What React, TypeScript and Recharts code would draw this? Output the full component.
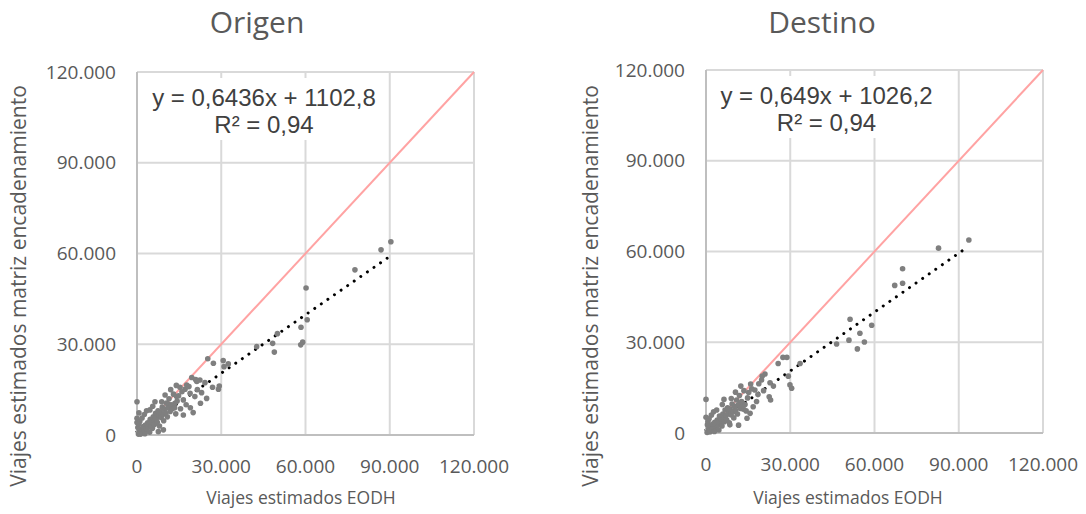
import React from "react";
import { ScatterChart, Scatter, XAxis, YAxis, CartesianGrid, ReferenceLine } from "recharts";

// ejes compartidos (valores en viajes)
const axisTicks = [0, 30000, 60000, 90000, 120000];
const identityLine = [0, 120000];

// Origen: [EODH, matriz encadenamiento]
const origenPoints: [number, number][] = [
  [90400, 63900], [86900, 61200], [77600, 54600], [60200, 48600], [60600, 38100],
  [58400, 35600], [59000, 30700], [58300, 29800], [50000, 33500], [48300, 30300],
  [48900, 27400], [42600, 29200], [25200, 25200], [30700, 24600], [32500, 23500],
  [31000, 22600], [27200, 23700], [22400, 18200], [20900, 18300], [24200, 17300],
  [21300, 17700], [26900, 15800], [29000, 15100], [29300, 16200], [24800, 12100],
  [22600, 10500], [20000, 7400], [17100, 15100], [17700, 16500], [15300, 15800],
  [18900, 13800], [20600, 12700], [16500, 11600], [14100, 12700], [13500, 10500],
  [16500, 6600], [12700, 9400], [11100, 10200], [6400, 11000], [4600, 8300],
  [0, 11000], [0, 5500], [0, 4100], [9400, 1700], [7600, 1100],
  [500, 300], [800, 1200], [1200, 600], [1500, 2000], [2000, 1500],
  [2200, 2800], [2500, 1000], [3000, 3300], [3200, 2100], [3500, 1500],
  [3800, 4000], [4000, 2600], [4300, 3500], [4700, 5200], [5000, 3000],
  [5200, 4400], [5500, 2200], [5800, 6000], [6000, 4800], [6200, 3500],
  [6600, 7200], [7000, 5600], [7200, 4200], [7500, 8000], [7800, 6500],
  [8000, 3000], [8300, 7600], [8600, 5800], [9000, 9200], [9200, 6800],
  [9500, 4700], [9800, 8500], [10200, 7200], [10500, 10600], [10800, 6000],
  [11000, 9000], [11400, 12000], [11800, 7800], [12200, 10000], [12500, 8600],
  [13000, 13500], [13400, 9000], [13800, 7000], [14300, 11200], [14800, 13000],
  [1000, 4500], [1800, 5600], [2600, 6800], [3400, 8000], [300, 2500],
  [600, 3600], [1300, 300], [2800, 400], [4500, 900], [700, 7300],
  [5600, 9500], [8800, 11000], [10000, 13200], [12000, 15000], [14000, 16400],
  [16000, 14300], [18500, 16000], [19500, 19000], [21500, 15000], [23000, 14000],
  [17500, 10000], [19000, 9000], [15500, 8700],
];

// Destino: [EODH, matriz encadenamiento]
const destinoPoints: [number, number][] = [
  [93600, 63800], [82800, 61100], [70000, 54300], [70000, 49500], [67200, 48800],
  [51300, 37600], [59000, 35600], [54800, 33000], [50900, 30700], [56400, 30100],
  [46500, 29400], [53900, 27800], [27400, 25000], [28800, 25000], [25700, 23000],
  [33500, 23000], [29300, 18800], [29900, 15900], [30500, 14800], [21000, 19500],
  [19800, 17500], [22800, 16600], [22500, 12000], [23000, 10900], [15900, 16200],
  [17400, 14200], [18500, 12700], [16800, 8700], [15700, 6500], [12100, 9800],
  [13300, 7900], [9700, 7000], [6400, 11100], [0, 11100], [0, 5200],
  [3800, 7600], [5000, 3000], [8500, 2700], [20500, 14000], [24000, 15500],
  [400, 200], [900, 1300], [1300, 500], [1600, 2200], [2100, 1400],
  [2400, 3000], [2700, 900], [3100, 3500], [3300, 2000], [3700, 1600],
  [4000, 4300], [4200, 2500], [4500, 3700], [4800, 5600], [5200, 3200],
  [5400, 4600], [5700, 2300], [6000, 6300], [6300, 4900], [6500, 3700],
  [6800, 7600], [7200, 5800], [7400, 4300], [7700, 8300], [8000, 6700],
  [8300, 3400], [8600, 7900], [8900, 6000], [9300, 9600], [9600, 7100],
  [9900, 5000], [10200, 8800], [10600, 7500], [10900, 10900], [11200, 6300],
  [11500, 9300], [11900, 12400], [12300, 8100], [12700, 10400], [13000, 8900],
  [13500, 14000], [13900, 9400], [14300, 7300], [14800, 11600], [15200, 13400],
  [1100, 4700], [1900, 5900], [2700, 7000], [500, 2700], [700, 3800],
  [1500, 400], [3000, 500], [4600, 1000], [5800, 9400], [9000, 11400],
  [10500, 13500], [12400, 15500], [16300, 14600], [18800, 16300], [20000, 18800],
  [18000, 10400], [14600, 4900], [11600, 2600],
];

// pendiente, intercepto, x máximo de la línea de tendencia
const origenFit = [0.6436, 1102.8, 90400];
const destinoFit = [0.649, 1026.2, 92800];

const textColor = "#595959";
const fontFamily = "'Open Sans', sans-serif";

const fmt = (v: number) => String(v).replace(/\B(?=(\d{3})+(?!\d))/g, ".");

interface PanelProps {
  left: number;
  title: string;
  points: [number, number][];
  fit: number[];
  eqLine1: string;
  eqLine2: string;
  plot: { left: number; right: number; top: number; bottom: number };
  eqBox: { left: number; top: number; width: number; height: number };
  titleX: number;
  xLabelX: number;
  yLabelX: number;
}

const W = 540;
const H = 514;

const ScatterPanel: React.FC<PanelProps> = ({
  left,
  title,
  points,
  fit,
  eqLine1,
  eqLine2,
  plot,
  eqBox,
  titleX,
  xLabelX,
  yLabelX,
}) => {
  const data = points.map(([x, y]) => ({ x, y }));
  const [slope, intercept, xMax] = fit;

  return (
    <div style={{ position: "absolute", left, top: 0, width: W, height: H, fontFamily }}>
      <ScatterChart
        width={W}
        height={H}
        margin={{ top: plot.top, right: W - plot.right, bottom: 0, left: 0 }}>
        <CartesianGrid
          stroke='#d9d9d9'
          strokeWidth={2}
        />
        <XAxis
          type='number'
          dataKey='x'
          domain={[0, 120000]}
          ticks={axisTicks}
          height={H - plot.bottom}
          tickFormatter={fmt}
          tickLine={false}
          tickMargin={19}
          axisLine={{ stroke: "#bfbfbf", strokeWidth: 2 }}
          tick={{ fill: textColor, fontSize: 19, fontFamily }}
          interval={0}
        />
        <YAxis
          type='number'
          dataKey='y'
          domain={[0, 120000]}
          ticks={axisTicks}
          width={plot.left}
          tickFormatter={fmt}
          tickLine={false}
          tickMargin={15}
          axisLine={{ stroke: "#bfbfbf", strokeWidth: 2 }}
          tick={{ fill: textColor, fontSize: 19, fontFamily }}
          interval={0}
        />
        <Scatter
          data={data}
          fill='#7f7f7f'
          isAnimationActive={false}
          shape={(p: any) => (
            <circle
              cx={p.cx}
              cy={p.cy}
              r={2.8}
              fill='#7f7f7f'
            />
          )}
        />
        <ReferenceLine
          segment={[
            { x: identityLine[0], y: identityLine[0] },
            { x: identityLine[1], y: identityLine[1] },
          ]}
          stroke='#ffa3a3'
          strokeWidth={2}
        />
        <ReferenceLine
          segment={[
            { x: 0, y: intercept },
            { x: xMax, y: slope * xMax + intercept },
          ]}
          stroke='#000000'
          strokeWidth={3}
          strokeDasharray='0.01 8'
          strokeLinecap='round'
        />
      </ScatterChart>

      {/* etiqueta de la ecuación con fondo blanco, como en Excel */}
      <div
        style={{
          position: "absolute",
          left: eqBox.left,
          top: eqBox.top,
          width: eqBox.width,
          height: eqBox.height,
          background: "#fff",
        }}
      />
      <div
        style={{
          position: "absolute",
          left: eqBox.left,
          width: eqBox.width,
          top: eqBox.top + 6,
          textAlign: "center",
          fontFamily: "'Liberation Sans', Arial, sans-serif",
          fontSize: 24,
          lineHeight: "27px",
          color: "#404040",
          whiteSpace: "nowrap",
        }}>
        {eqLine1}
      </div>
      <div
        style={{
          position: "absolute",
          left: eqBox.left,
          width: eqBox.width,
          top: eqBox.top + 33,
          textAlign: "center",
          fontFamily: "'Liberation Sans', Arial, sans-serif",
          fontSize: 24,
          lineHeight: "27px",
          color: "#404040",
          whiteSpace: "nowrap",
        }}>
        {eqLine2}
      </div>

      <div
        style={{
          position: "absolute",
          left: titleX - 120,
          width: 240,
          top: 1,
          textAlign: "center",
          fontSize: 30,
          lineHeight: "42px",
          color: textColor,
        }}>
        {title}
      </div>

      <div
        style={{
          position: "absolute",
          left: xLabelX - 150,
          width: 300,
          top: 485,
          textAlign: "center",
          fontSize: 17.5,
          lineHeight: "24px",
          color: textColor,
        }}>
        Viajes estimados EODH
      </div>

      <div
        style={{
          position: "absolute",
          left: yLabelX - 250,
          top: 286 - 14,
          width: 500,
          textAlign: "center",
          fontSize: 21,
          lineHeight: "28px",
          color: textColor,
          transform: "rotate(-90deg)",
          whiteSpace: "nowrap",
        }}>
        Viajes estimados matriz encadenamiento
      </div>
    </div>
  );
};

export default function App() {
  return (
    <div style={{ position: "absolute", left: 0, top: 0, width: 1086, height: 514, background: "#fff" }}>
      <ScatterPanel
        left={0}
        title='Origen'
        points={origenPoints}
        fit={origenFit}
        eqLine1='y = 0,6436x + 1102,8'
        eqLine2='R² = 0,94'
        plot={{ left: 137, right: 474, top: 72, bottom: 435 }}
        eqBox={{ left: 140, top: 78, width: 248, height: 62 }}
        titleX={257}
        xLabelX={301}
        yLabelX={18}
      />
      <ScatterPanel
        left={546}
        title='Destino'
        points={destinoPoints}
        fit={destinoFit}
        eqLine1='y = 0,649x + 1026,2'
        eqLine2='R² = 0,94'
        plot={{ left: 160, right: 497, top: 70, bottom: 433 }}
        eqBox={{ left: 162, top: 76, width: 237, height: 62 }}
        titleX={276}
        xLabelX={302}
        yLabelX={44}
      />
    </div>
  );
}
